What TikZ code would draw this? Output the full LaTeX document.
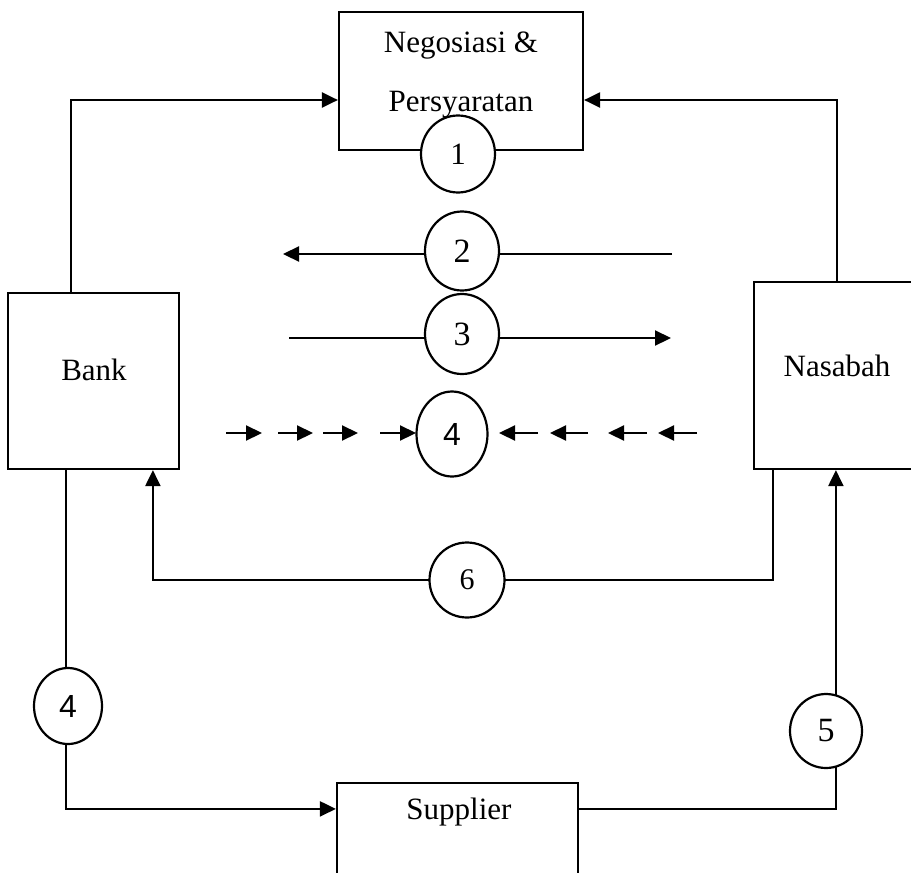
\documentclass[tikz,border=0pt]{standalone}
\usepackage{fontspec}
\setmainfont{Liberation Serif}
\newfontfamily\sansdigits{Liberation Sans}
\usetikzlibrary{arrows.meta,shapes.geometric}
\begin{document}
\begin{tikzpicture}[x=1pt,y=-1pt, line width=2.2pt,
  box/.style={draw, rectangle, inner sep=0},
  lbl/.style={font=\fontsize{31}{36}\selectfont, anchor=base, inner sep=0},
  num/.style={draw, ellipse, fill=white, inner sep=0, font=\fontsize{34}{40}\selectfont},
  arr/.style={-{Triangle[length=16pt,width=15pt]}}]
\useasboundingbox (0,0) rectangle (911,873);

% boxes
\node[box, minimum width=244pt, minimum height=138pt] (neg) at (461,81) {};
\node[box, minimum width=171pt, minimum height=176pt] (bank) at (93.5,381) {};
\node[box, minimum width=170pt, minimum height=187pt] (nas) at (839,375.5) {};
\node[box, minimum width=241pt, minimum height=130pt] (sup) at (457.5,848) {};

% box texts
\node[lbl] (negA) at (461,52) {Negosiasi \&};
\node[lbl] (negB) at (461,111) {Persyaratan};
\node[lbl] (bankT) at (94,380) {Bank};
\node[lbl] (nasT) at (837,376) {Nasabah};
\node[lbl] (supT) at (459,819) {Supplier};

% connectors
\draw[arr] ([xshift=64pt]bank.north west) |- ([yshift=-19pt]neg.west);
\draw[arr] ([xshift=84pt]nas.north west) |- ([yshift=-19pt]neg.east);

\coordinate (a2s) at (672,254);
\coordinate (a2e) at (283,254);
\draw[arr] (a2s) -- (a2e);

\coordinate (a3s) at (289,338);
\coordinate (a3e) at (671,338);
\draw[arr] (a3s) -- (a3e);

\foreach \a/\b in {226/262, 278/313, 323/358, 380/416, 538/499, 588/550, 647/608, 697/658}
  \draw[arr] (\a,433) -- (\b,433);

\draw[arr] ([xshift=20pt]nas.south west) -- ++(0,110) -| ([xshift=146pt]bank.south west);
\draw[arr] ([xshift=59pt]bank.south west) |- ([yshift=-27pt]sup.north west);
\draw[arr] ([yshift=-27pt]sup.north east) -| ([xshift=83pt]nas.south west);

% numbered circles
\node[num, minimum width=74pt, minimum height=77pt, font=\fontsize{31}{36}\selectfont] (c1) at (458,154) {1};
\node[num, minimum width=74pt, minimum height=79pt] (c2) at (462,251) {2};
\node[num, minimum width=74pt, minimum height=80pt] (c3) at (462,334) {3};
\node[num, minimum width=71pt, minimum height=85pt, font=\fontsize{32}{36}\sansdigits] (c4) at (452,434) {4};
\node[num, minimum width=75pt, minimum height=75pt, font=\fontsize{30}{34}\selectfont] (c6) at (467,580) {6};
\node[num, minimum width=68pt, minimum height=76pt, font=\fontsize{32}{36}\sansdigits] (c4b) at (68,706) {4};
\node[num, minimum width=72pt, minimum height=74pt] (c5) at (826,731) {5};
\end{tikzpicture}
\end{document}
